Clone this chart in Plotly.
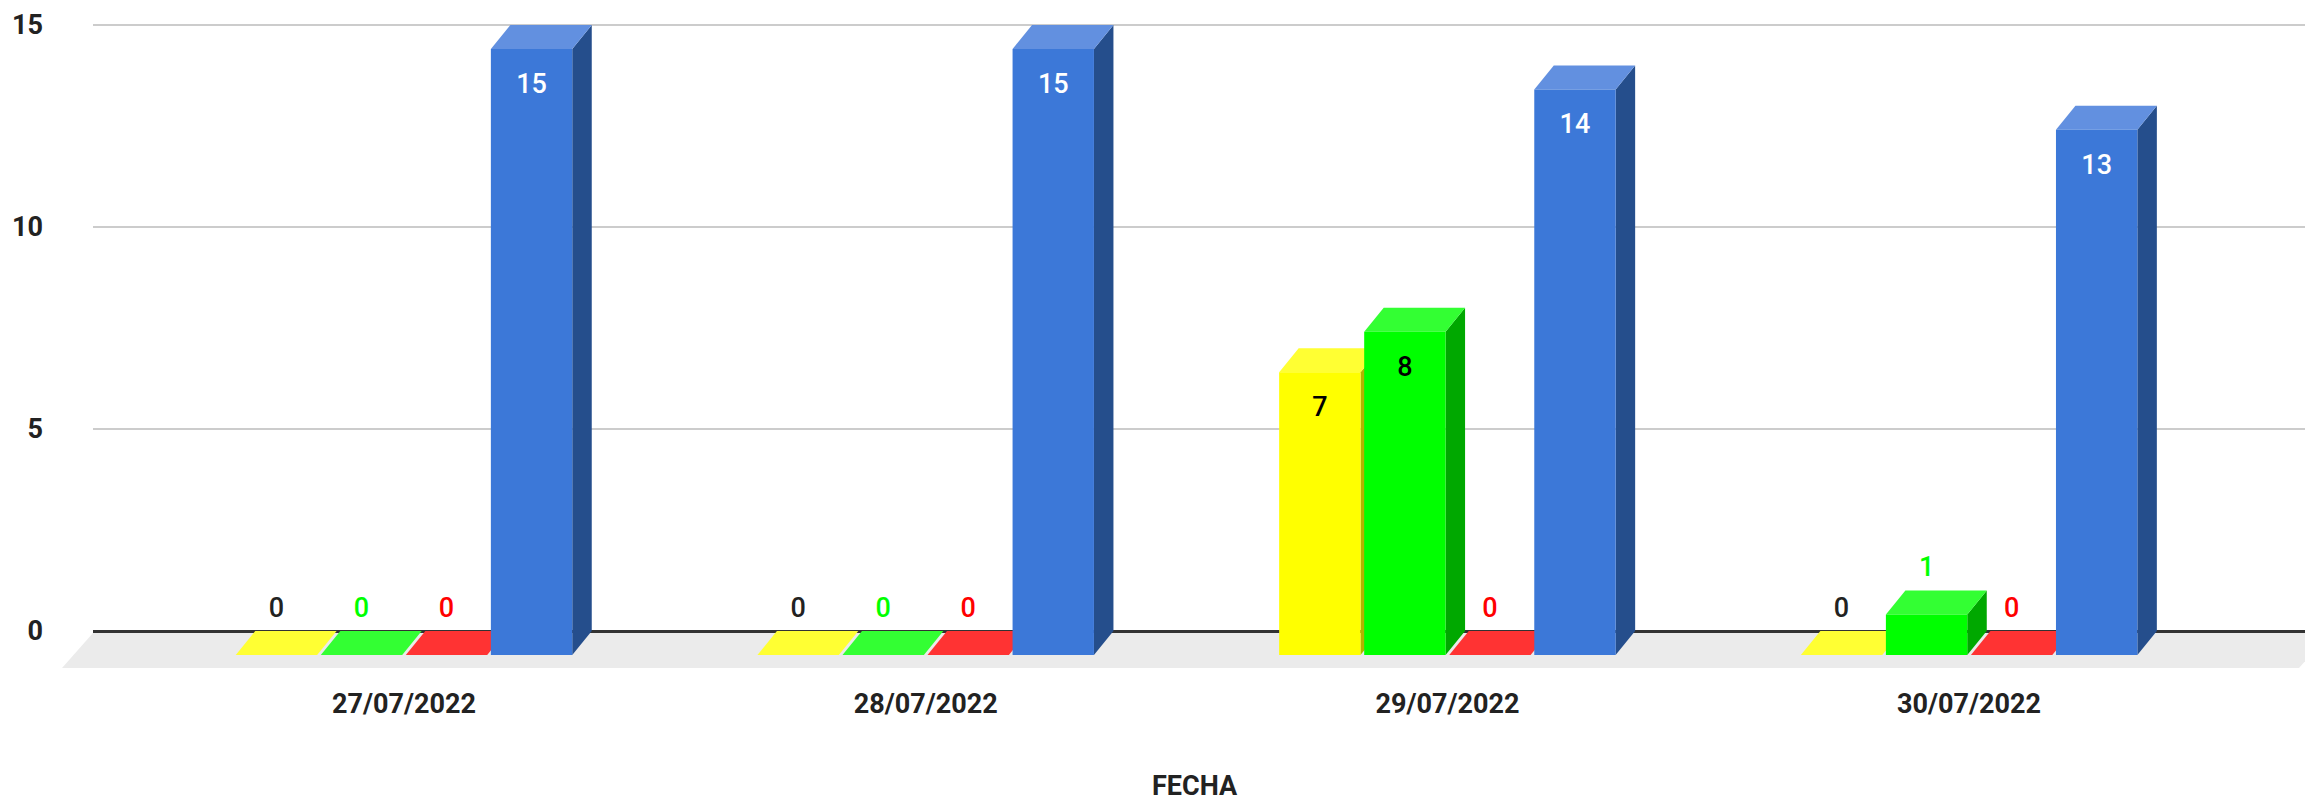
import plotly.graph_objects as go

# the page body has an 8px margin, so the figure is drawn 8px smaller and up-left
PAGE = 8
W, H = 2313 - PAGE, 801 - PAGE

# data
fechas = ['27/07/2022', '28/07/2022', '29/07/2022', '30/07/2022']
amarillo = [0, 0, 7, 0]
verde = [0, 0, 8, 1]
rojo = [0, 0, 0, 0]
azul = [15, 15, 14, 13]
y_ticks = [0, 5, 10, 15]

# (values, front, top, side, label outside, label inside)
series = [
    (amarillo, '#ffff00', '#ffff33', '#b3b300', '#222222', '#000000'),
    (verde, '#00ff00', '#33ff33', '#00a800', '#00ff00', '#000000'),
    (rojo, '#ff0000', '#ff3333', '#b30000', '#ff0000', '#ffffff'),
    (azul, '#3c78d8', '#6290e0', '#254e8c', '#3c78d8', '#ffffff'),
]

# pixel geometry of the fake 3D box
PX_GROUP = 521.7
PX_UNIT = 40.4
X0_FRONT = 404 - PAGE    # centre of first group on the front plane
Y0_BACK = 631 - PAGE
Y0_FRONT = 655 - PAGE
Y_BOTTOM = 668 - PAGE
X_LEFT = 93 - PAGE
DEPTH_X = 19.5 / PX_GROUP
DEPTH_Y = (Y0_FRONT - Y0_BACK) / PX_UNIT

BARGAP = 0.348
GROUPGAP = 0.043
SLOT = (1 - BARGAP) / len(series)
BAR_W = SLOT * (1 - GROUPGAP)
LABEL_ABOVE = 1.12
LABEL_INSIDE = 0.92

fig = go.Figure()

# sides and tops live on the back plane axes, under the front faces
for j, (vals, front, top, side, _, _) in enumerate(series):
    for i, v in enumerate(vals):
        u0 = i + (j - len(series) / 2) * SLOT + (SLOT - BAR_W) / 2
        u1 = u0 + BAR_W
        if v > 0:
            fig.add_trace(go.Scatter(
                x=[u1 - DEPTH_X, u1, u1, u1 - DEPTH_X, u1 - DEPTH_X],
                y=[-DEPTH_Y, 0, v, v - DEPTH_Y, -DEPTH_Y],
                mode='lines', fill='toself', fillcolor=side,
                line=dict(width=0), hoverinfo='skip',
            ))
        fig.add_trace(go.Scatter(
            x=[u0 - DEPTH_X, u1 - DEPTH_X, u1, u0, u0 - DEPTH_X],
            y=[v - DEPTH_Y, v - DEPTH_Y, v, v, v - DEPTH_Y],
            mode='lines', fill='toself', fillcolor=top,
            line=dict(width=0), hoverinfo='skip',
        ))

# front faces
for vals, front, *_ in series:
    fig.add_trace(go.Bar(
        x=list(range(len(fechas))), y=vals,
        marker=dict(color=front, line=dict(width=0)),
        xaxis='x2', yaxis='y2',
    ))

# data labels
for j, (vals, _, _, _, out_color, in_color) in enumerate(series):
    xs = [i + (j - len(series) / 2 + 0.5) * SLOT for i in range(len(vals))]
    ys = [v - LABEL_INSIDE if v >= 2 else v + LABEL_ABOVE for v in vals]
    colors = [in_color if v >= 2 else out_color for v in vals]
    fig.add_trace(go.Scatter(
        x=xs, y=ys, text=[str(v) for v in vals],
        mode='text', textposition='middle center',
        textfont=dict(family='Roboto', size=27, color=colors, weight=500),
        xaxis='x2', yaxis='y2', hoverinfo='skip',
    ))

x_span = [(X_LEFT - X0_FRONT) / PX_GROUP, (W - X0_FRONT) / PX_GROUP]
y_domain = [(H - Y_BOTTOM) / H, 1]

fig.update_layout(
    width=W, height=H,
    margin=dict(l=0, r=0, t=0, b=0),
    paper_bgcolor='white',
    plot_bgcolor='rgba(0,0,0,0)',
    showlegend=False,
    barmode='group',
    bargap=BARGAP,
    bargroupgap=GROUPGAP,
    font=dict(family='Roboto', size=27, color='#222222', weight='bold'),
    xaxis=dict(
        domain=[X_LEFT / W, 1],
        range=[x_span[0] - DEPTH_X, x_span[1] - DEPTH_X],
        visible=False,
    ),
    yaxis=dict(
        domain=y_domain,
        range=[(Y0_BACK - Y_BOTTOM) / PX_UNIT, Y0_BACK / PX_UNIT],
        tickvals=y_ticks,
        showgrid=True, gridcolor='#cccccc', gridwidth=2,
        zeroline=True, zerolinecolor='#333333', zerolinewidth=2.5,
        showline=False, ticks='',
        ticklabelstandoff=49,
    ),
    xaxis2=dict(
        overlaying='x', anchor='y2',
        domain=[X_LEFT / W, 1],
        range=x_span,
        tickvals=list(range(len(fechas))),
        ticktext=fechas,
        showgrid=False, zeroline=False, showline=False, ticks='',
        ticklabelstandoff=17,
    ),
    yaxis2=dict(
        overlaying='y', anchor='x2',
        domain=y_domain,
        range=[(Y0_FRONT - Y_BOTTOM) / PX_UNIT, Y0_FRONT / PX_UNIT],
        visible=False,
    ),
    shapes=[dict(
        # floor of the box
        type='path', xref='paper', yref='paper', layer='below',
        path=f'M {X_LEFT / W} {(H - Y0_BACK - 2) / H} L 1 {(H - Y0_BACK - 2) / H} '
             f'L 1 {(H - Y_BOTTOM + 16) / H} L {(2299 - PAGE) / W} {(H - Y_BOTTOM) / H} '
             f'L {(62 - PAGE) / W} {(H - Y_BOTTOM) / H} Z',
        fillcolor='#ebebeb', line=dict(width=0),
    )],
    annotations=[dict(
        text='FECHA', xref='paper', yref='paper',
        x=(1195 - PAGE) / W, y=(H - (786 - PAGE)) / H, showarrow=False,
        xanchor='center', yanchor='middle',
        font=dict(family='Roboto', size=27, color='#222222', weight='bold'),
    )],
)

fig.write_html('out.html')
